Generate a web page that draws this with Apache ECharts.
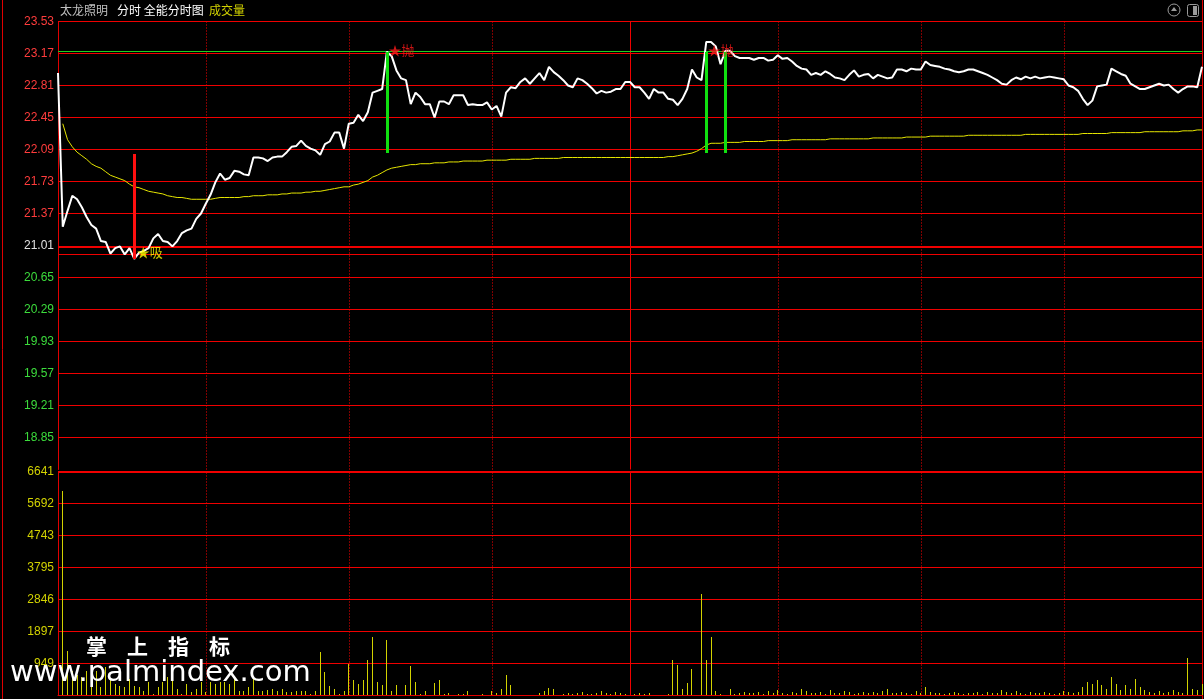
<!DOCTYPE html>
<html><head><meta charset="utf-8">
<script src="https://cdn.jsdelivr.net/npm/echarts@6/dist/echarts.min.js"></script>
<style>html,body{margin:0;padding:0;background:#000;}#c{width:1204px;height:699px;}</style>
</head><body><div id="c"></div>
<script>
// ---------- data ----------
const priceTickLabels = ['18.49','18.85','19.21','19.57','19.93','20.29','20.65','21.01','21.37','21.73','22.09','22.45','22.81','23.17','23.53'];
const volTickLabels = ['0','949','1897','2846','3795','4743','5692','6641'];
const prevClose = 21.01;
const priceMin = 18.49, priceStep = 0.36;
const volMax = 6641;

const price = [
22.95,21.22,21.40,21.57,21.53,21.44,21.33,21.24,21.20,21.06,
21.05,20.92,20.98,21.00,20.91,20.98,20.86,20.93,20.95,20.98,
21.09,21.14,21.06,21.05,21.00,21.06,21.15,21.18,21.20,21.31,
21.37,21.48,21.58,21.72,21.82,21.75,21.77,21.85,21.84,21.81,
21.80,22.00,22.00,21.99,21.96,22.00,22.01,22.01,22.06,22.12,
22.13,22.19,22.13,22.10,22.08,22.03,22.15,22.18,22.28,22.28,
22.10,22.38,22.39,22.48,22.41,22.51,22.73,22.75,22.77,23.19,
23.14,22.98,22.89,22.87,22.60,22.73,22.68,22.60,22.60,22.45,
22.63,22.63,22.60,22.70,22.70,22.70,22.59,22.60,22.59,22.59,
22.62,22.54,22.58,22.46,22.73,22.79,22.78,22.85,22.89,22.83,
22.89,22.95,22.87,23.02,22.96,22.92,22.87,22.81,22.79,22.89,
22.87,22.83,22.78,22.72,22.75,22.73,22.74,22.77,22.77,22.85,
22.85,22.79,22.79,22.73,22.66,22.77,22.73,22.73,22.66,22.65,
22.59,22.66,22.77,22.99,22.90,22.87,23.30,23.30,23.25,23.05,
23.20,23.20,23.14,23.12,23.12,23.12,23.10,23.12,23.12,23.09,
23.10,23.15,23.11,23.12,23.08,23.03,23.00,22.99,22.93,22.95,
22.93,22.97,22.94,22.90,22.89,22.87,22.93,22.98,22.91,22.93,
22.94,22.89,22.93,22.91,22.89,22.90,22.99,22.99,22.97,23.00,
22.99,22.99,23.08,23.04,23.03,23.02,23.00,22.99,22.97,22.96,
22.97,22.99,22.99,22.97,22.95,22.93,22.90,22.87,22.83,22.82,
22.87,22.90,22.88,22.91,22.89,22.91,22.89,22.90,22.91,22.90,
22.89,22.88,22.81,22.79,22.75,22.66,22.59,22.64,22.80,22.81,
22.82,23.00,22.97,22.94,22.92,22.83,22.80,22.77,22.77,22.79,
22.81,22.83,22.81,22.82,22.77,22.73,22.77,22.80,22.80,22.79,
23.02
];

const avgPrice = [
null,22.38,22.20,22.12,22.06,22.02,21.98,21.93,21.90,21.88,
21.84,21.80,21.78,21.76,21.74,21.70,21.67,21.66,21.64,21.62,
21.61,21.60,21.59,21.57,21.56,21.55,21.55,21.54,21.53,21.53,
21.53,21.53,21.53,21.54,21.55,21.55,21.55,21.55,21.55,21.56,
21.56,21.57,21.57,21.57,21.58,21.58,21.58,21.59,21.59,21.60,
21.60,21.60,21.61,21.61,21.62,21.62,21.63,21.64,21.65,21.66,
21.67,21.67,21.69,21.70,21.72,21.74,21.78,21.80,21.83,21.86,
21.88,21.89,21.90,21.91,21.92,21.92,21.93,21.93,21.93,21.94,
21.94,21.94,21.95,21.95,21.95,21.96,21.96,21.96,21.96,21.96,
21.97,21.97,21.97,21.97,21.97,21.98,21.98,21.98,21.98,21.98,
21.99,21.99,21.99,21.99,21.99,21.99,22.00,22.00,22.00,22.00,
22.00,22.00,22.00,22.00,22.00,22.00,22.00,22.00,22.00,22.00,
22.00,22.00,22.00,22.00,22.00,22.00,22.00,22.00,22.01,22.01,
22.02,22.03,22.04,22.05,22.07,22.10,22.14,22.16,22.16,22.16,
22.17,22.17,22.17,22.17,22.18,22.18,22.18,22.18,22.18,22.19,
22.19,22.19,22.19,22.19,22.20,22.20,22.20,22.20,22.20,22.20,
22.20,22.20,22.21,22.21,22.21,22.21,22.21,22.21,22.21,22.21,
22.21,22.22,22.22,22.22,22.22,22.22,22.22,22.22,22.23,22.23,
22.23,22.23,22.23,22.24,22.24,22.24,22.24,22.24,22.24,22.24,
22.24,22.25,22.25,22.25,22.25,22.25,22.25,22.25,22.25,22.25,
22.25,22.25,22.25,22.26,22.26,22.26,22.26,22.26,22.26,22.26,
22.26,22.26,22.26,22.26,22.26,22.27,22.27,22.27,22.27,22.27,
22.27,22.28,22.28,22.28,22.28,22.28,22.28,22.28,22.29,22.29,
22.29,22.29,22.29,22.29,22.29,22.29,22.30,22.30,22.30,22.31,
22.31
];

const volume = [
0,6050,1334,741,593,543,741,593,741,247,
840,445,346,296,247,494,296,247,148,395,
49,247,395,543,543,198,49,346,99,198,
395,99,395,346,395,395,346,494,148,148,
247,494,148,148,168,198,148,198,99,99,
148,148,128,49,148,1284,691,296,198,49,
148,939,445,346,474,1038,1730,415,297,1660,
148,297,20,326,860,415,49,148,20,375,
465,49,79,20,49,49,119,20,20,40,
10,119,69,178,593,316,10,10,10,20,
20,79,148,217,178,20,40,70,30,60,
100,50,40,80,120,60,40,90,60,50,
20,50,70,40,70,10,10,20,40,1038,
890,178,356,771,10,3024,1067,1730,120,50,
10,178,50,79,99,79,60,90,40,120,
60,150,80,50,100,60,200,120,80,60,
100,50,150,80,60,120,90,50,70,110,
60,90,60,130,200,80,60,100,80,50,
120,70,250,90,60,80,40,60,100,70,
50,80,60,110,50,90,60,80,150,90,
60,120,70,50,90,60,80,110,60,50,
80,120,90,60,100,250,400,350,450,300,
200,550,350,150,300,200,500,250,150,100,
60,120,80,100,150,90,80,1120,200,150,
350
];

// signals: [minute, low end, high end]
const buySignals = [[16, 20.86, 22.04]];
const sellSignals = [[69, 22.05, 23.19], [136, 22.05, 23.19], [140, 22.05, 23.19]];
// signal text marks: [minute, price]
const buyMarks = [[16, 20.94]];
const sellMarks = [[69, 23.21], [136, 23.21]];
const resistLine = 23.19, supportLine = 20.91;
const dottedMinutes = [31, 61, 91, 151, 181, 211];
const middayMinute = 120;
const watermarkChars = ['掌', '上', '指', '标'];

// ---------- chart ----------
const off = v => (v == null ? null : +(v - priceMin).toFixed(4));
const RED = '#e00000';
const GRID_RED = '#f00000';
const chart = echarts.init(document.getElementById('c'), null, {renderer: 'canvas'});

const vLines = dottedMinutes.map(m => ({xAxis: m, lineStyle: {type: [1, 2], color: '#ff0000', width: 1}}))
  .concat([{xAxis: middayMinute, lineStyle: {type: 'solid', color: GRID_RED, width: 1}}]);

// horizontal rule rows: [x(unused), axis value, thickness]
const priceRules = priceTickLabels.slice(1).map(s => [0, off(+s), +s === prevClose ? 2 : 1])
  .concat([[0, off(supportLine), 1]]);
const volRules = volTickLabels.slice(1).map((s, k) => [0, volMax / 7 * (k + 1), k === 6 ? 2 : 1]);

const ruleRender = (color, thickShift) => function (params, api) {
  const cs = params.coordSys;
  const y = Math.floor(api.coord([0, api.value(1)])[1]);
  const h = api.value(2);
  return {type: 'rect', shape: {x: cs.x, y: h > 1 ? y + thickShift : y, width: cs.width, height: h},
          style: {fill: color}};
};

const signalRender = color => function (params, api) {
  const p1 = api.coord([api.value(0), api.value(2)]);
  const p2 = api.coord([api.value(0), api.value(1)]);
  const x = Math.round(p1[0]) - 1;
  return {type: 'rect', shape: {x: x, y: Math.round(p1[1]), width: 3, height: Math.round(p2[1]) - Math.round(p1[1])}, style: {fill: color}};
};
const volRender = function (params, api) {
  const top = api.coord([api.value(0), api.value(1)]);
  const base = api.coord([api.value(0), 0]);
  const x = Math.floor(top[0]);
  const y0 = Math.round(top[1]), y1 = Math.floor(base[1]);
  return {type: 'rect', shape: {x: x, y: y0, width: 1, height: Math.max(0, y1 - y0)}, style: {fill: '#d2d200'}};
};

chart.setOption({
  backgroundColor: '#000',
  animation: false,
  grid: [
    {left: 58, top: 21.5, width: 1144, height: 448},
    {left: 58, top: 471.5, width: 1144, height: 224}
  ],
  xAxis: [
    {gridIndex: 0, type: 'value', min: 0, max: 240, axisLabel: {show: false}, axisTick: {show: false},
     splitLine: {show: false}, axisLine: {show: false}},
    {gridIndex: 1, type: 'value', min: 0, max: 240, axisLabel: {show: false}, axisTick: {show: false},
     splitLine: {show: false}, axisLine: {show: true, lineStyle: {color: RED, width: 1}}}
  ],
  yAxis: [
    {gridIndex: 0, type: 'value', min: 0, max: +(priceStep * 14).toFixed(2), interval: priceStep,
     axisLine: {show: true, lineStyle: {color: RED}}, axisTick: {show: false},
     splitLine: {show: false},
     axisLabel: {showMinLabel: false, margin: 4, fontSize: 12, fontFamily: 'Liberation Sans, Arial',
       formatter: v => priceTickLabels[Math.round(v / priceStep)],
       color: v => {
         const p = +priceTickLabels[Math.round(v / priceStep)];
         return p > prevClose ? '#ff3c3c' : (p < prevClose ? '#3cdc3c' : '#e0e0e0');
       }}},
    {gridIndex: 1, type: 'value', min: 0, max: volMax, interval: volMax / 7,
     axisLine: {show: true, lineStyle: {color: RED}}, axisTick: {show: false},
     splitLine: {show: false},
     axisLabel: {showMinLabel: false, margin: 4, fontSize: 12, fontFamily: 'Liberation Sans, Arial', color: '#d2d200',
       formatter: v => volTickLabels[Math.round(v / (volMax / 7))]}}
  ],
  series: [
    {type: 'custom', xAxisIndex: 0, yAxisIndex: 0, z: 1, silent: true, renderItem: ruleRender(GRID_RED, 1),
     encode: {x: 0, y: 1}, data: priceRules},
    {type: 'custom', xAxisIndex: 1, yAxisIndex: 1, z: 1, silent: true, renderItem: ruleRender(GRID_RED, 0),
     encode: {x: 0, y: 1}, data: volRules},
    {type: 'line', name: 'price', xAxisIndex: 0, yAxisIndex: 0, showSymbol: false, symbol: 'none', z: 5,
     lineStyle: {color: '#ffffff', width: 2}, data: price.map((v, i) => [i, off(v)]),
     markLine: {silent: true, symbol: 'none', label: {show: false}, animation: false, z: 1,
       data: vLines.concat([
         {yAxis: off(resistLine), lineStyle: {type: 'solid', color: '#1ed21e', width: 1}}
       ])}},
    {type: 'line', name: 'avg', xAxisIndex: 0, yAxisIndex: 0, showSymbol: false, symbol: 'none', z: 4,
     lineStyle: {color: '#e6e600', width: 1}, data: avgPrice.map((v, i) => [i, off(v)])},
    {type: 'custom', xAxisIndex: 0, yAxisIndex: 0, z: 6, renderItem: signalRender('#ff1010'),
     data: buySignals.map(s => [s[0], off(s[1]), off(s[2])])},
    {type: 'custom', xAxisIndex: 0, yAxisIndex: 0, z: 6, renderItem: signalRender('#10e010'),
     data: sellSignals.map(s => [s[0], off(s[1]), off(s[2])])},
    {type: 'scatter', xAxisIndex: 0, yAxisIndex: 0, symbolSize: 1, z: 7, itemStyle: {color: 'rgba(0,0,0,0)'},
     label: {show: true, position: 'right', distance: 2, formatter: '★吸', color: '#ffff00', fontSize: 13,
       fontFamily: 'Noto Sans CJK SC'},
     data: buyMarks.map(m => [m[0], off(m[1])])},
    {type: 'scatter', xAxisIndex: 0, yAxisIndex: 0, symbolSize: 1, z: 7, itemStyle: {color: 'rgba(0,0,0,0)'},
     label: {show: true, position: 'right', distance: 1, formatter: '★抛', color: '#ff1a1a', fontSize: 13,
       fontFamily: 'Noto Sans CJK SC'},
     data: sellMarks.map(m => [m[0], off(m[1])])},
    {type: 'custom', name: 'volume', xAxisIndex: 1, yAxisIndex: 1, z: 3, renderItem: volRender,
     data: volume.map((v, i) => [i, v]),
     markLine: {silent: true, symbol: 'none', label: {show: false}, animation: false, data: vLines}}
  ],
  graphic: [
    {type: 'line', shape: {x1: 2.5, y1: 0, x2: 2.5, y2: 699}, style: {stroke: RED, lineWidth: 1}, silent: true},
    {type: 'line', shape: {x1: 1202.5, y1: 0, x2: 1202.5, y2: 699}, style: {stroke: RED, lineWidth: 1}, silent: true},
    {type: 'text', left: 60, top: 4, style: {text: '太龙照明', fill: '#c0c0c0', font: '12px "Noto Sans CJK SC"'}},
    {type: 'text', left: 117, top: 4, style: {text: '分时 全能分时图', fill: '#ffffff', font: '12px "Noto Sans CJK SC"'}},
    {type: 'text', left: 209, top: 4, style: {text: '成交量', fill: '#d2d200', font: '12px "Noto Sans CJK SC"'}},
    {type: 'circle', shape: {cx: 1174, cy: 10, r: 6}, style: {fill: 'none', stroke: '#9a9a9a', lineWidth: 1}},
    {type: 'polygon', shape: {points: [[1171, 11], [1174, 7], [1177, 11]]}, style: {fill: '#9a9a9a'}},
    {type: 'rect', shape: {x: 1187.5, y: 4.5, width: 11, height: 12, r: 2}, style: {fill: 'none', stroke: '#9a9a9a', lineWidth: 1}},
    {type: 'rect', shape: {x: 1193, y: 6, width: 4, height: 9}, style: {fill: '#9a9a9a'}}
  ].concat(watermarkChars.map((ch, k) => ({type: 'text', x: 86 + k * 41, y: 636, z: 100,
      style: {text: ch, fill: '#ffffff', font: 'bold 21px "Noto Sans CJK SC"', verticalAlign: 'top'}})))
   .concat([{type: 'text', x: 10, y: 659, z: 100,
      style: {text: 'www.palmindex.com', fill: '#ffffff', font: '29px "DejaVu Sans"', verticalAlign: 'top'}}])
});
</script></body></html>
